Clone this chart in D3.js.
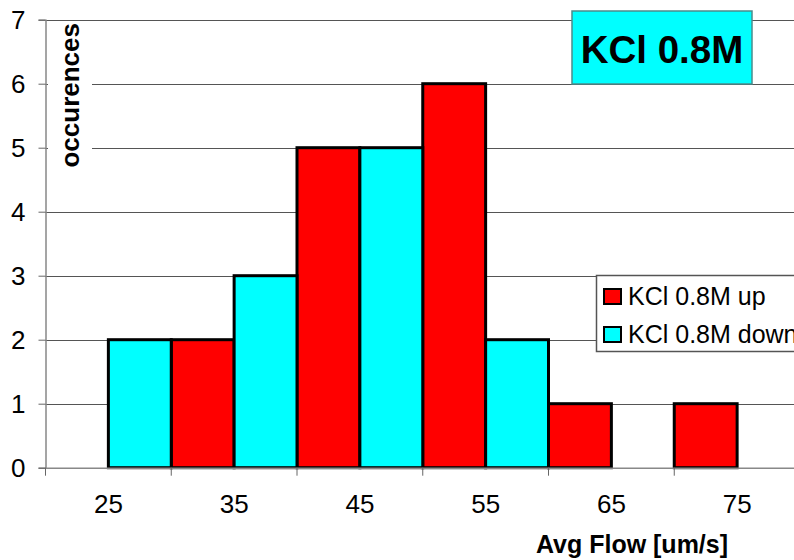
<!DOCTYPE html>
<html>
<head>
<meta charset="utf-8">
<script src="https://cdn.jsdelivr.net/npm/d3@7/dist/d3.min.js"></script>
<style>
  html, body { margin: 0; padding: 0; background: #fff; }
  svg { display: block; font-family: Arial, "Liberation Sans", sans-serif; }
</style>
</head>
<body>
<svg id="chart" width="794" height="560"></svg>
<script>
// Histogram of average flow, KCl 0.8M, upward vs downward runs
const categories = ["25", "35", "45", "55", "65", "75"];
const upCounts   = [0, 2, 5, 6, 1, 1];
const downCounts = [2, 3, 5, 2, 0, 0];
const yTicks = [0, 1, 2, 3, 4, 5, 6, 7];
const seriesNames = ["KCl 0.8M up", "KCl 0.8M down"];
const seriesColors = ["#ff0000", "#00ffff"];

const svg = d3.select("#chart");
const plotLeft = 45.5, plotRight = 800, plotTop = 19.7, plotBottom = 467.7;

const x = d3.scaleBand().domain(categories).range([plotLeft, plotRight]).paddingInner(0).paddingOuter(0);
const sub = d3.scaleBand().domain([0, 1]).range([0, x.bandwidth()]).padding(0);
const y = d3.scaleLinear().domain([0, 7]).range([plotBottom, plotTop]);

// gridlines
svg.append("g")
  .selectAll("line")
  .data(yTicks.filter(d => d > 0))
  .join("line")
  .attr("x1", plotLeft).attr("x2", plotRight)
  .attr("y1", d => Math.round(y(d)) + 0.5).attr("y2", d => Math.round(y(d)) + 0.5)
  .attr("stroke", "#555").attr("stroke-width", 1);

// white backing behind the rotated axis title
svg.append("rect")
  .attr("x", 48).attr("y", 21).attr("width", 44).attr("height", 144)
  .attr("fill", "#fff");

// bars
const series = [upCounts, downCounts];
series.forEach((vals, si) => {
  svg.append("g")
    .selectAll("rect")
    .data(categories.map((c, i) => ({ c, v: vals[i] })).filter(d => d.v > 0))
    .join("rect")
    .attr("x", d => x(d.c) + sub(si))
    .attr("y", d => y(d.v))
    .attr("width", sub.bandwidth())
    .attr("height", d => y(0) - y(d.v))
    .attr("fill", seriesColors[si])
    .attr("stroke", "#000")
    .attr("stroke-width", 3);
});

// y axis
const yAxis = svg.append("g")
  .attr("transform", `translate(${plotLeft},0)`)
  .call(d3.axisLeft(y).tickValues(yTicks).tickSize(7).tickPadding(13).tickFormat(d3.format("d")));
yAxis.select(".domain").attr("stroke", "#888").attr("stroke-width", 1.5);
yAxis.selectAll(".tick line").attr("stroke", "#666");
yAxis.selectAll("text").attr("font-size", 26).attr("fill", "#000")
  .attr("font-family", "Arial, 'Liberation Sans', sans-serif");

// x axis with ticks on band boundaries
const xAxis = svg.append("g")
  .attr("transform", `translate(0,${plotBottom})`)
  .call(d3.axisBottom(x).tickSize(0).tickPadding(27));
xAxis.select(".domain").attr("stroke", "#888").attr("stroke-width", 1.5);
xAxis.selectAll("text").attr("font-size", 26).attr("fill", "#000")
  .attr("font-family", "Arial, 'Liberation Sans', sans-serif");
xAxis.selectAll("line.bound")
  .data(categories)
  .join("line")
  .attr("class", "bound")
  .attr("x1", d => x(d)).attr("x2", d => x(d))
  .attr("y1", 0).attr("y2", 8)
  .attr("stroke", "#666");

// axis titles
svg.append("text")
  .attr("transform", "translate(79,23) rotate(-90)")
  .attr("text-anchor", "end")
  .attr("font-size", 26).attr("font-weight", "bold")
  .text("occurences");

svg.append("text")
  .attr("x", 632).attr("y", 553)
  .attr("text-anchor", "middle")
  .attr("font-size", 25).attr("font-weight", "bold")
  .text("Avg Flow [um/s]");

// title box
svg.append("rect")
  .attr("x", 572).attr("y", 11).attr("width", 180).attr("height", 73)
  .attr("fill", "#00ffff").attr("stroke", "#4b8c8c").attr("stroke-width", 1.5);
svg.append("text")
  .attr("x", 662).attr("y", 63)
  .attr("text-anchor", "middle")
  .attr("font-size", 38.5).attr("font-weight", "bold")
  .text("KCl 0.8M");

// legend
const legend = svg.append("g");
legend.append("rect")
  .attr("x", 596.5).attr("y", 275.5).attr("width", 220).attr("height", 76)
  .attr("fill", "#fff").attr("stroke", "#555").attr("stroke-width", 1.5);
const rows = legend.selectAll("g.row")
  .data(seriesNames)
  .join("g")
  .attr("class", "row")
  .attr("transform", (d, i) => `translate(0,${i * 38})`);
rows.append("rect")
  .attr("x", 604).attr("y", 289).attr("width", 17).attr("height", 15)
  .attr("fill", (d, i) => seriesColors[i])
  .attr("stroke", "#000").attr("stroke-width", 2);
rows.append("text")
  .attr("x", 628).attr("y", 305)
  .attr("font-size", 25)
  .text(d => d);
</script>
</body>
</html>
